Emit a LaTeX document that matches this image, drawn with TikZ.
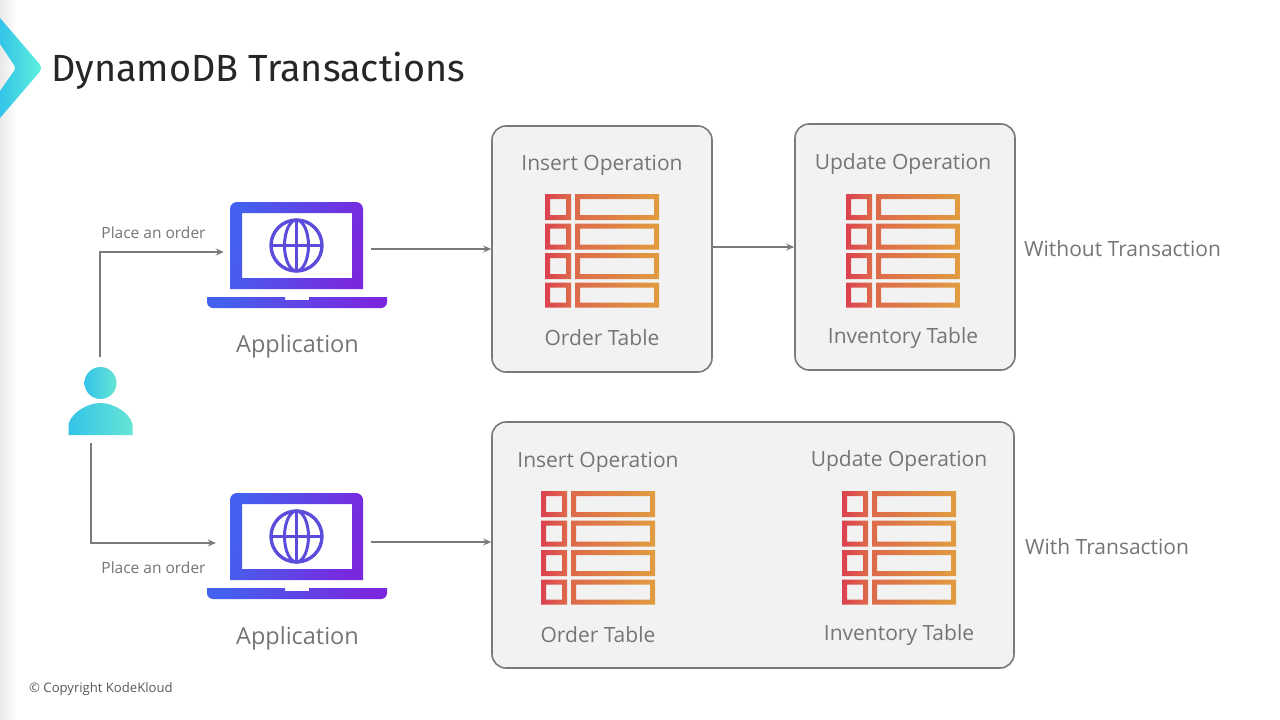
\documentclass[tikz,border=0pt]{standalone}
\usepackage{fontspec}
\setmainfont{Open Sans}
\newfontfamily\titlefont{Fira Sans}
\usetikzlibrary{arrows.meta}
\definecolor{linegray}{HTML}{7A7A7A}
\definecolor{textgray}{HTML}{757575}
\definecolor{panelgray}{HTML}{F2F2F2}
\definecolor{lapblue}{HTML}{4460EE}
\definecolor{lappurple}{HTML}{7A28DE}
\definecolor{globeblue}{HTML}{5C4CDC}
\definecolor{tabred}{HTML}{DC414F}
\definecolor{tabmid}{HTML}{DD6A4A}
\definecolor{taborange}{HTML}{E19C40}
\definecolor{usercyan}{HTML}{33C4E8}
\definecolor{usermint}{HTML}{66E4D4}
\definecolor{logomint}{HTML}{60F2DC}
\tikzset{
  panel/.style={draw=linegray, fill=panelgray, line width=1.6pt, rounded corners=14pt},
  lbl/.style={text=textgray, inner sep=0pt, font=\fontsize{21}{25}\selectfont},
  small/.style={text=textgray, inner sep=0pt, font=\fontsize{15.5}{19}\selectfont},
  apptext/.style={text=textgray, inner sep=0pt, font=\fontsize{23.5}{28}\selectfont},
  conn/.style={draw=linegray, line width=1.8pt, -{Stealth[length=8pt,width=7pt]}},
  lapshade/.style={left color=lapblue, right color=lappurple, shading angle=75},
  pics/tableicon/.style={code={
    \shade[left color=tabred, right color=tabmid, even odd rule]
      (0,0) rectangle (26,26) (5,5) rectangle (21,21)
      (0,29.5) rectangle (26,55.5) (5,34.5) rectangle (21,50.5)
      (0,59) rectangle (26,85) (5,64) rectangle (21,80)
      (0,88.5) rectangle (26,113.5) (5,93.5) rectangle (21,108.5);
    \shade[left color=tabmid, right color=taborange, even odd rule]
      (30,0) rectangle (114,26) (35,5) rectangle (109,21)
      (30,29.5) rectangle (114,55.5) (35,34.5) rectangle (109,50.5)
      (30,59) rectangle (114,85) (35,64) rectangle (109,80)
      (30,88.5) rectangle (114,113.5) (35,93.5) rectangle (109,108.5);
  }},
  pics/laptop/.style={code={
    \shade[lapshade, even odd rule]
      (0,87) [rounded corners=7pt] -- (0,0) -- (133,0) [sharp corners] -- (133,87) -- cycle
      (12,11) rectangle (122,76);
    \shade[lapshade]
      (-23,95) -- (55,95) -- (55,98) -- (79,98) -- (79,95) -- (157,95)
      [rounded corners=6pt] -- (157,106) -- (-23,106) [sharp corners] -- cycle;
    \draw[globeblue, line width=3.4pt] (66.5,43.5) circle[radius=25.5];
    \draw[globeblue, line width=3pt] (66.5,43.5) ellipse[x radius=12, y radius=25.5];
    \draw[globeblue, line width=3pt] (66.5,18) -- (66.5,69) (41,43.5) -- (92,43.5);
  }},
}
\begin{document}
\begin{tikzpicture}[x=1pt,y=-1pt]
	\useasboundingbox (0,0) rectangle (1280,720);
	% Background and logo
	\fill[white] (0,0) rectangle (1280,720);
	\shade[left color=black!9, right color=white] (0,0) rectangle (16,720);
	\shade[left color=usercyan, right color=logomint]
		(0,18) [rounded corners=5pt] -- (43,68) [sharp corners] -- (0,118) -- (0,91)
		[rounded corners=3pt] -- (16,68) [sharp corners] -- (0,44) -- cycle;
	\node[anchor=west, inner sep=0pt, font=\titlefont\fontsize{37.8}{44}\selectfont, text=black!85] (title) at (51,71) {DynamoDB Transactions};
	\node[anchor=west, inner sep=0pt, text=black!65, font=\fontsize{13.1}{15}\selectfont] (copyright) at (29,689) {© Copyright KodeKloud};
	% Nodes
	\node[panel, minimum width=220pt, minimum height=246pt] (box1) at (602,249) {};
	\node[panel, minimum width=220pt, minimum height=246pt] (box2) at (905,247) {};
	\node[panel, minimum width=522pt, minimum height=246pt] (box3) at (753,545) {};
	\node[minimum width=147pt, minimum height=40pt, inner sep=0pt] (app1) at (297.5,249) {};
	\node[minimum width=155pt, minimum height=40pt, inner sep=0pt] (app2) at (293.5,542) {};
	\node[minimum width=66pt, minimum height=86pt, inner sep=0pt] (user) at (100,400) {};
	% Icons
	\pic at (230,202) {laptop};
	\pic at (230,493) {laptop};
	\pic at (545,194) {tableicon};
	\pic at (846,194) {tableicon};
	\pic at (541,491) {tableicon};
	\pic at (842,491) {tableicon};
	\shade[left color=usercyan, right color=usermint] (100.5,383) circle[radius=16];
	\shade[left color=usercyan, right color=usermint]
		(68.5,435) -- (68.5,424) .. controls (72,412) and (88,403) .. (100.5,403)
		.. controls (113,403) and (129,412) .. (132.5,424) -- (132.5,435) -- cycle;
	% Labels
	\node[small] (order1) at (153.5,232.7) {Place an order};
	\node[small] (order2) at (153.5,567.7) {Place an order};
	\node[apptext] (applabel1) at (297.5,346) {Application};
	\node[apptext] (applabel2) at (297.5,638) {Application};
	\node[lbl] (insert1) at (602,165) {Insert Operation};
	\node[lbl] (order3) at (602,338) {Order Table};
	\node[lbl] (update1) at (903,164) {Update Operation};
	\node[lbl] (inv1) at (903,338) {Inventory Table};
	\node[lbl] (insert2) at (598,462) {Insert Operation};
	\node[lbl] (order4) at (598,635) {Order Table};
	\node[lbl] (update2) at (899,461) {Update Operation};
	\node[lbl] (inv2) at (899,635) {Inventory Table};
	\node[lbl, anchor=west] (without) at (1024,249) {Without Transaction};
	\node[lbl, anchor=west] (with) at (1025,547) {With Transaction};
	% Arrows
	\draw[conn] (user.north) |- ([yshift=-3pt]app1.west);
	\draw[conn] ([xshift=-9pt]user.south) |- ([yshift=-1pt]app2.west);
	\draw[conn] (app1.east) -- (box1.west);
	\draw[conn] (box1.east |- box2.west) -- (box2.west);
	\draw[conn] (app2.east) -- (app2.east -| box3.west);
\end{tikzpicture}
\end{document}
